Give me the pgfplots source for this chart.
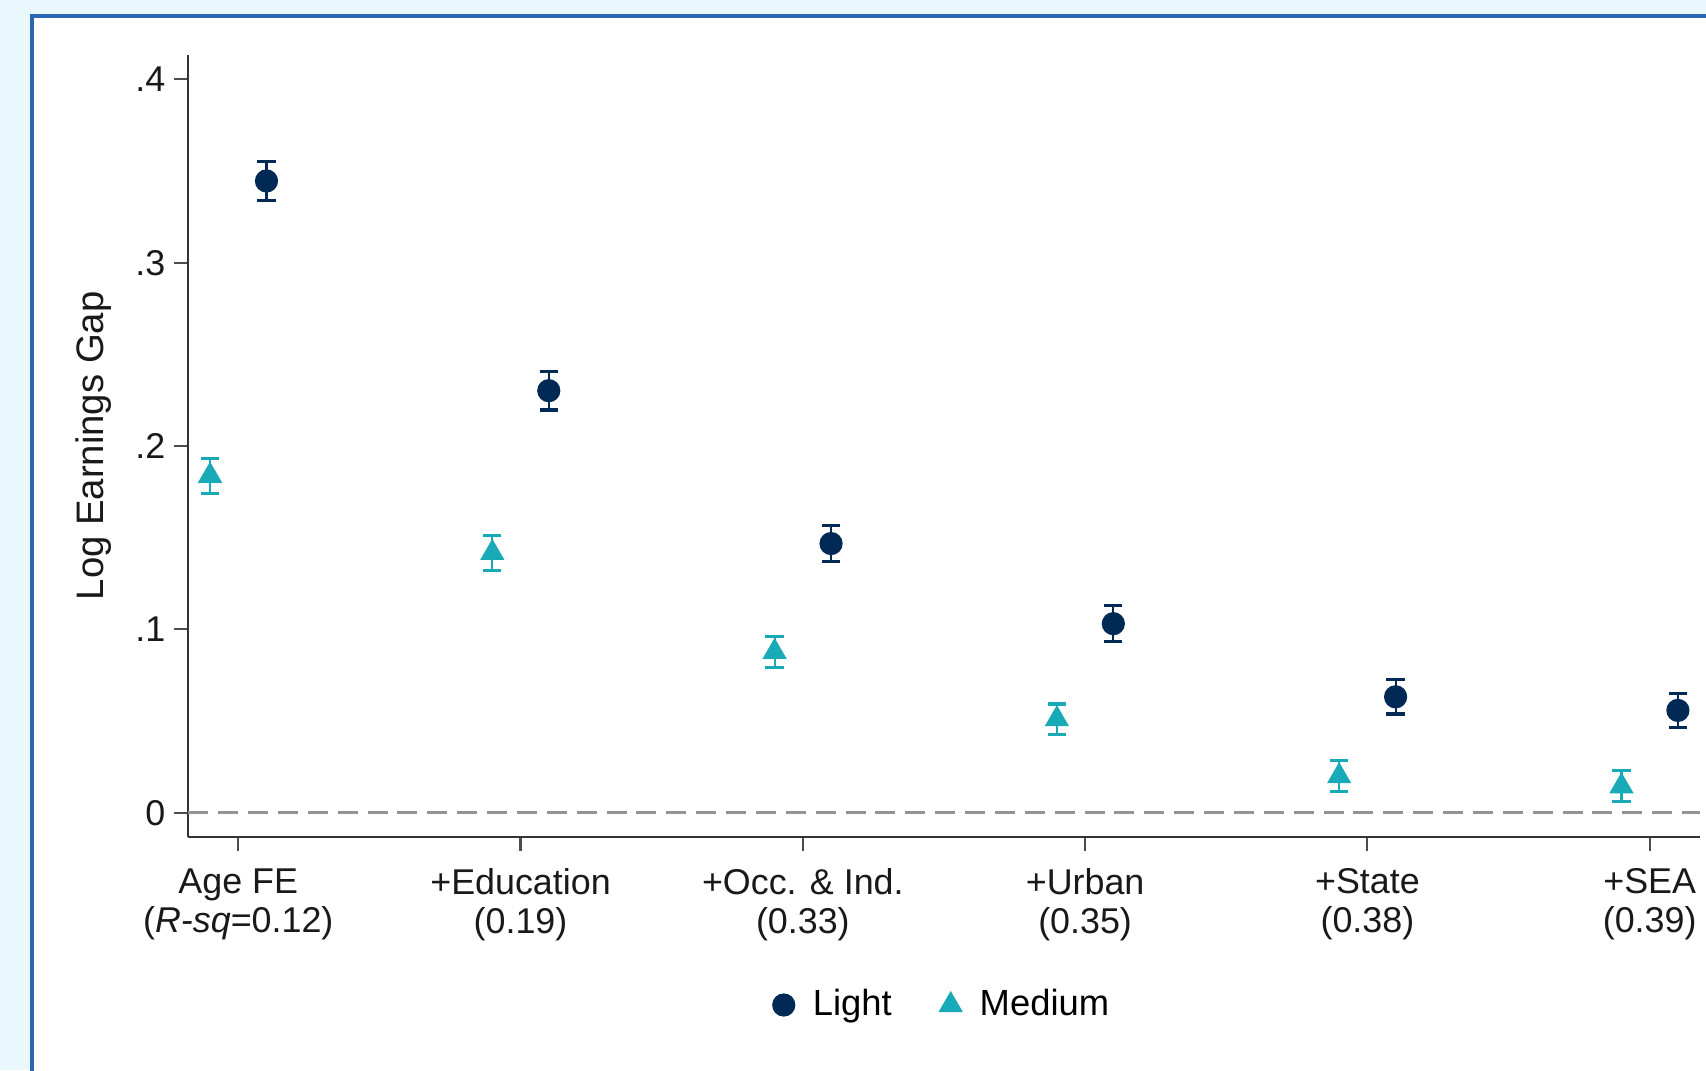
\documentclass[border=0pt]{standalone}
\usepackage{pgfplots}
\pgfplotsset{compat=1.18}
\usepackage{fontspec}
\setmainfont{Liberation Sans}
\definecolor{bgblue}{RGB}{233,248,252}
\definecolor{frameblue}{RGB}{42,102,178}
\definecolor{navyc}{RGB}{1,41,86}
\definecolor{tealc}{RGB}{24,170,182}
\newcommand{\cf}{\fontsize{10.2}{11.1}\selectfont}

% columns: x, y, half-width of the 95% interval
\pgfplotstableread{
x    y      e
0.1  0.3446 0.0107
1.1  0.2302 0.0105
2.1  0.1468 0.0098
3.1  0.1031 0.0097
4.1  0.0632 0.0094
5.1  0.0558 0.0093
}\lightdata
\pgfplotstableread{
x    y      e
-0.1 0.1838 0.0096
0.9  0.1417 0.0094
1.9  0.0877 0.0084
2.9  0.0510 0.0083
3.9  0.0199 0.0085
4.9  0.0144 0.0085
}\mediumdata

\begin{document}
\begin{tikzpicture}
\useasboundingbox (0,0) rectangle (17.06,10.70);
\clip (0,0) rectangle (17.06,10.70);
\fill[bgblue] (0,0) rectangle (17.06,10.70);
\fill[white] (0.315,-0.2) rectangle (17.3,10.543);
\draw[line width=0.04cm, frameblue] (0.315,-0.2) -- (0.315,10.543) -- (17.3,10.543);

\begin{axis}[
    at={(1.883cm,2.333cm)}, anchor=south west,
    scale only axis,
    width=15.113cm, height=7.817cm,
    xmin=-0.177, xmax=5.177,
    ymin=-0.0131, ymax=0.4133,
    axis x line*=bottom, axis y line*=left,
    axis line style={black!80, line width=0.6pt},
    tick align=outside,
    major tick length=0.145cm,
    tick style={black!70, line width=0.6pt},
    xtick={0,1,2,3,4,5},
    xticklabels={{Age FE\\(\textit{R-sq}=0.12)}, {+Education\\(0.19)}, {+Occ. \& Ind.\\(0.33)}, {+Urban\\(0.35)}, {+State\\(0.38)}, {+SEA\\(0.39)}},
    xticklabel style={align=center, font=\cf, text=black!90, yshift=-1.5pt},
    ytick={0,0.1,0.2,0.3,0.4},
    yticklabels={0,.1,.2,.3,.4},
    yticklabel style={font=\cf, text=black!90, xshift=1.1pt},
    ylabel={Log Earnings Gap},
    every axis y label/.style={at={(axis description cs:-0.0625,0.5)}, rotate=90, anchor=center,
        font=\fontsize{10.9}{12}\selectfont, text=black!90},
    legend style={at={(axis description cs:0.5,-0.2153)}, anchor=center, draw=none, fill=none,
        legend columns=2, font=\fontsize{10.35}{11.1}\selectfont, /tikz/every even column/.append style={column sep=0.4cm}},
    legend image code/.code={\draw[#1] plot coordinates {(0cm,0cm)}; \path[draw=none] (-0.12cm,0cm) -- (0.22cm,0cm);},
    clip=false,
]
\draw[gray!85, line width=0.7pt, dash pattern=on 5.7pt off 2.8pt] (axis cs:-0.177,0) -- (axis cs:5.177,0);
\addplot[only marks, mark=*, navyc, mark size=3.1pt,
    error bars/.cd, y dir=both, y explicit, error mark=-,
    error bar style={navyc, line width=0.6pt},
    error mark options={navyc, line width=0.9pt, mark size=2.6pt, rotate=90}]
    table[x=x, y=y, y error=e] {\lightdata};
\addlegendentry{Light}
\addplot[only marks, mark=triangle*, tealc, mark size=3.6pt,
    error bars/.cd, y dir=both, y explicit, error mark=-,
    error bar style={tealc, line width=0.6pt},
    error mark options={tealc, line width=0.9pt, mark size=2.6pt, rotate=90}]
    table[x=x, y=y, y error=e] {\mediumdata};
\addlegendentry{Medium}
\end{axis}
\end{tikzpicture}
\end{document}
